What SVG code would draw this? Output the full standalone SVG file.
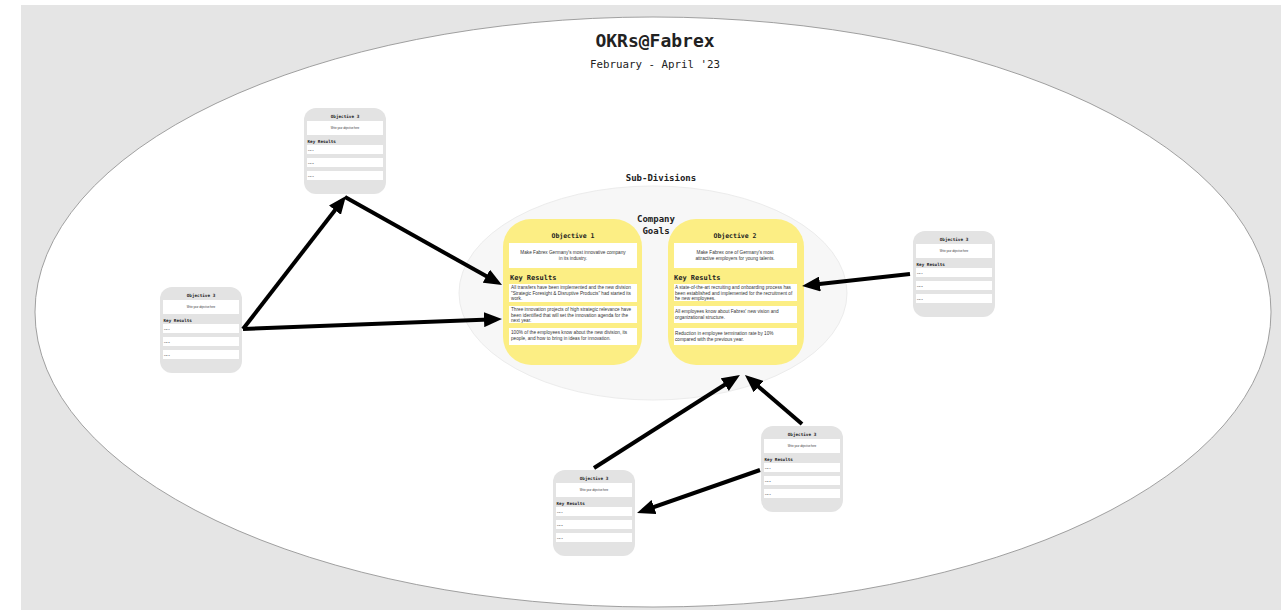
<svg xmlns="http://www.w3.org/2000/svg" width="1281" height="613" viewBox="0 0 1281 613">
  <style>
    .mono { font-family: "DejaVu Sans Mono", "Liberation Mono", monospace; fill: #222; }
    .b { font-weight: bold; }
    .sans { font-family: "Liberation Sans", Arial, sans-serif; fill: #333; }
    .yCard { fill: #fcee84; }
    .gCard { fill: #e3e3e3; }
    .box { fill: #ffffff; }
    .conn { stroke: #000; stroke-width: 4; fill: none; marker-end: url(#head); }
  </style>
  <defs>
    <marker id="head" markerUnits="userSpaceOnUse" markerWidth="18" markerHeight="15" refX="12" refY="7.5" orient="auto" viewBox="0 0 18 15">
      <path d="M0,0 L18,7.5 L0,15 z" fill="#000"/>
    </marker>
  </defs>

  <!-- canvas -->
  <rect x="21" y="5" width="1260" height="605" fill="#e5e5e5"/>
  <ellipse cx="653" cy="312" rx="618" ry="295" fill="#ffffff" stroke="#8a8a8a" stroke-width="0.8"/>

  <g id="title">
    <text class="mono b" x="655" y="47" font-size="18" text-anchor="middle">OKRs@Fabrex</text>
    <text class="mono" x="655" y="68" font-size="10.8" text-anchor="middle">February - April '23</text>
  </g>

  <g id="sub-divisions">
    <ellipse cx="653" cy="293" rx="194" ry="107" fill="#f7f7f7" stroke="#ececec" stroke-width="1"/>
    <text class="mono b" x="661" y="181" font-size="9" text-anchor="middle">Sub-Divisions</text>
    <text class="mono b" x="656" y="222" font-size="9" text-anchor="middle">Company</text>
    <text class="mono b" x="656" y="234" font-size="9" text-anchor="middle">Goals</text>
  </g>

  <!-- company objective 1 -->
  <g id="objective-1">
    <rect class="yCard" x="503" y="219" width="139" height="146" rx="28"/>
    <text class="mono b" x="573" y="238" font-size="6.5" text-anchor="middle">Objective 1</text>
    <rect class="box" x="509" y="243" width="128" height="25"/>
    <text class="sans" x="573" y="254" font-size="4.7" text-anchor="middle">Make Fabrex Germany's most innovative company</text>
    <text class="sans" x="573" y="260" font-size="4.7" text-anchor="middle">in its industry.</text>
    <text class="mono b" x="510" y="280" font-size="7" >Key Results</text>
    <rect class="box" x="509" y="284" width="128" height="18"/>
    <text class="sans" x="511" y="289" font-size="4.7">All transfers have been implemented and the new division</text>
    <text class="sans" x="511" y="294.5" font-size="4.7">"Strategic Foresight &amp; Disruptive Products" had started its</text>
    <text class="sans" x="511" y="300" font-size="4.7">work.</text>
    <rect class="box" x="509" y="306" width="128" height="17"/>
    <text class="sans" x="511" y="311" font-size="4.7">Three innovation projects of high strategic relevance have</text>
    <text class="sans" x="511" y="316.5" font-size="4.7">been identified that will set the innovation agenda for the</text>
    <text class="sans" x="511" y="322" font-size="4.7">next year.</text>
    <rect class="box" x="509" y="328" width="128" height="17"/>
    <text class="sans" x="511" y="334" font-size="4.7">100% of the employees know about the new division, its</text>
    <text class="sans" x="511" y="339.5" font-size="4.7">people, and how to bring in ideas for innovation.</text>
  </g>

  <!-- company objective 2 -->
  <g id="objective-2">
    <rect class="yCard" x="668" y="219" width="136" height="146" rx="28"/>
    <text class="mono b" x="735" y="238" font-size="6.5" text-anchor="middle">Objective 2</text>
    <rect class="box" x="674" y="243" width="123" height="25"/>
    <text class="sans" x="735" y="254" font-size="4.7" text-anchor="middle">Make Fabrex one of Germany's most</text>
    <text class="sans" x="735" y="260" font-size="4.7" text-anchor="middle">attractive employers for young talents.</text>
    <text class="mono b" x="674" y="280" font-size="7">Key Results</text>
    <rect class="box" x="674" y="284" width="123" height="17"/>
    <text class="sans" x="675" y="289" font-size="4.7">A state-of-the-art recruiting and onboarding process has</text>
    <text class="sans" x="675" y="294.5" font-size="4.7">been established and implemented for the recruitment of</text>
    <text class="sans" x="675" y="300" font-size="4.7">he new employees.</text>
    <rect class="box" x="674" y="306" width="123" height="17"/>
    <text class="sans" x="675" y="313" font-size="4.7">All employees know about Fabrex' new vision and</text>
    <text class="sans" x="675" y="318.5" font-size="4.7">organizational structure.</text>
    <rect class="box" x="674" y="328" width="123" height="17"/>
    <text class="sans" x="675" y="335" font-size="4.7">Reduction in employee termination rate by 10%</text>
    <text class="sans" x="675" y="340.5" font-size="4.7">compared with the previous year.</text>
  </g>

  <!-- sub-division objective cards -->
  <g id="sub-objective-a" transform="translate(304,108)">
    <rect class="gCard" width="82" height="86" rx="12"/>
    <text class="mono b" x="41" y="10" font-size="4.3" text-anchor="middle">Objective 3</text>
    <rect class="box" x="3" y="13" width="76" height="14"/>
    <text class="sans" x="41" y="21" font-size="2.6" text-anchor="middle">Write your objective here</text>
    <text class="mono b" x="3.5" y="34.5" font-size="4.3">Key Results</text>
    <rect class="box" x="3" y="37" width="76" height="9"/>
    <text class="sans" x="4" y="42.5" font-size="2.5">KR 1</text>
    <rect class="box" x="3" y="50" width="76" height="9"/>
    <text class="sans" x="4" y="55.5" font-size="2.5">KR 2</text>
    <rect class="box" x="3" y="63" width="76" height="9"/>
    <text class="sans" x="4" y="68.5" font-size="2.5">KR 3</text>
  </g>

  <g id="sub-objective-b" transform="translate(160,287)">
    <rect class="gCard" width="82" height="86" rx="12"/>
    <text class="mono b" x="41" y="10" font-size="4.3" text-anchor="middle">Objective 3</text>
    <rect class="box" x="3" y="13" width="76" height="14"/>
    <text class="sans" x="41" y="21" font-size="2.6" text-anchor="middle">Write your objective here</text>
    <text class="mono b" x="3.5" y="34.5" font-size="4.3">Key Results</text>
    <rect class="box" x="3" y="37" width="76" height="9"/>
    <text class="sans" x="4" y="42.5" font-size="2.5">KR 1</text>
    <rect class="box" x="3" y="50" width="76" height="9"/>
    <text class="sans" x="4" y="55.5" font-size="2.5">KR 2</text>
    <rect class="box" x="3" y="63" width="76" height="9"/>
    <text class="sans" x="4" y="68.5" font-size="2.5">KR 3</text>
  </g>

  <g id="sub-objective-c" transform="translate(913,231)">
    <rect class="gCard" width="82" height="86" rx="12"/>
    <text class="mono b" x="41" y="10" font-size="4.3" text-anchor="middle">Objective 3</text>
    <rect class="box" x="3" y="13" width="76" height="14"/>
    <text class="sans" x="41" y="21" font-size="2.6" text-anchor="middle">Write your objective here</text>
    <text class="mono b" x="3.5" y="34.5" font-size="4.3">Key Results</text>
    <rect class="box" x="3" y="37" width="76" height="9"/>
    <text class="sans" x="4" y="42.5" font-size="2.5">KR 1</text>
    <rect class="box" x="3" y="50" width="76" height="9"/>
    <text class="sans" x="4" y="55.5" font-size="2.5">KR 2</text>
    <rect class="box" x="3" y="63" width="76" height="9"/>
    <text class="sans" x="4" y="68.5" font-size="2.5">KR 3</text>
  </g>

  <g id="sub-objective-d" transform="translate(761,426)">
    <rect class="gCard" width="82" height="86" rx="12"/>
    <text class="mono b" x="41" y="10" font-size="4.3" text-anchor="middle">Objective 3</text>
    <rect class="box" x="3" y="13" width="76" height="14"/>
    <text class="sans" x="41" y="21" font-size="2.6" text-anchor="middle">Write your objective here</text>
    <text class="mono b" x="3.5" y="34.5" font-size="4.3">Key Results</text>
    <rect class="box" x="3" y="37" width="76" height="9"/>
    <text class="sans" x="4" y="42.5" font-size="2.5">KR 1</text>
    <rect class="box" x="3" y="50" width="76" height="9"/>
    <text class="sans" x="4" y="55.5" font-size="2.5">KR 2</text>
    <rect class="box" x="3" y="63" width="76" height="9"/>
    <text class="sans" x="4" y="68.5" font-size="2.5">KR 3</text>
  </g>

  <g id="sub-objective-e" transform="translate(553,470)">
    <rect class="gCard" width="82" height="86" rx="12"/>
    <text class="mono b" x="41" y="10" font-size="4.3" text-anchor="middle">Objective 3</text>
    <rect class="box" x="3" y="13" width="76" height="14"/>
    <text class="sans" x="41" y="21" font-size="2.6" text-anchor="middle">Write your objective here</text>
    <text class="mono b" x="3.5" y="34.5" font-size="4.3">Key Results</text>
    <rect class="box" x="3" y="37" width="76" height="9"/>
    <text class="sans" x="4" y="42.5" font-size="2.5">KR 1</text>
    <rect class="box" x="3" y="50" width="76" height="9"/>
    <text class="sans" x="4" y="55.5" font-size="2.5">KR 2</text>
    <rect class="box" x="3" y="63" width="76" height="9"/>
    <text class="sans" x="4" y="68.5" font-size="2.5">KR 3</text>
  </g>

  <!-- connectors -->
  <g id="connectors">
    <line class="conn" x1="243" y1="329" x2="342.3" y2="200.7"/>
    <line class="conn" x1="243" y1="329" x2="496" y2="319.2"/>
    <line class="conn" x1="345" y1="197" x2="496.8" y2="282.1"/>
    <line class="conn" x1="910" y1="274" x2="808" y2="285.3"/>
    <line class="conn" x1="594" y1="468" x2="734.9" y2="378.2"/>
    <line class="conn" x1="802" y1="424" x2="749.5" y2="378.9"/>
    <line class="conn" x1="760" y1="470" x2="642.7" y2="511"/>
  </g>
</svg>
